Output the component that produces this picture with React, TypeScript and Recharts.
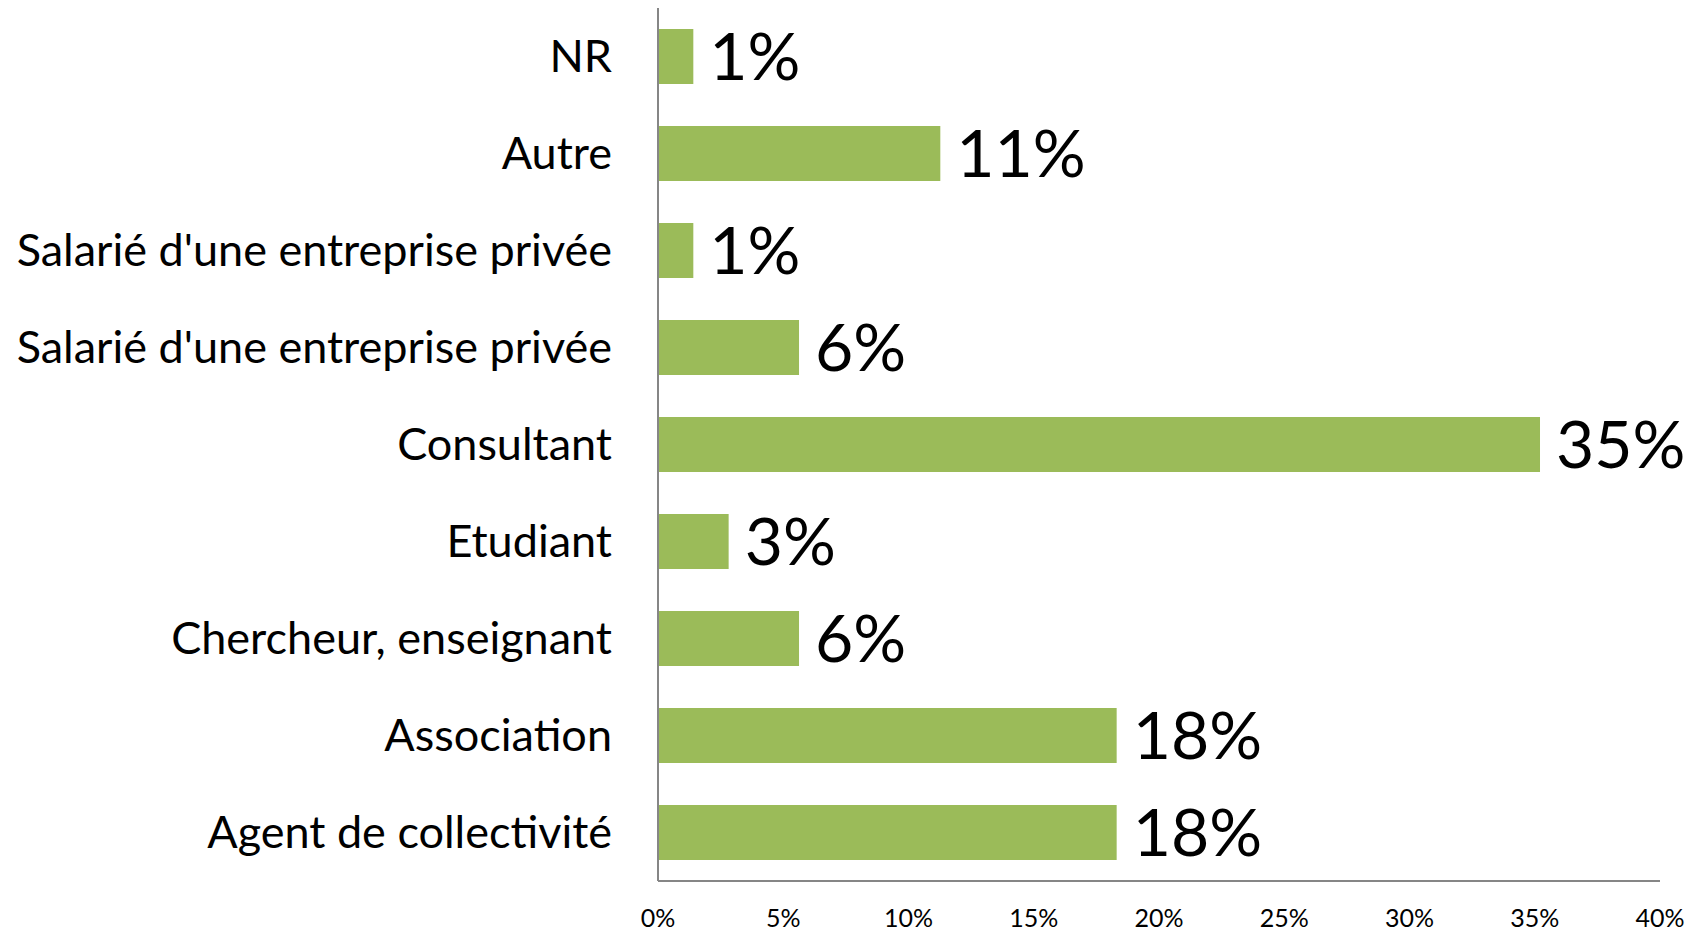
import { Bar, BarChart, LabelList, XAxis, YAxis } from 'recharts'

const categories = [
  'NR',
  'Autre',
  "Salarié d'une entreprise privée",
  "Salarié d'une entreprise privée",
  'Consultant',
  'Etudiant',
  'Chercheur, enseignant',
  'Association',
  'Agent de collectivité',
]

const shares = [1.41, 11.27, 1.41, 5.63, 35.21, 2.82, 5.63, 18.31, 18.31]

const xTicks = [0, 5, 10, 15, 20, 25, 30, 35, 40]

const data = categories.map((name, i) => ({ name, value: shares[i] }))

const FONT = 'Lato, "Open Sans", sans-serif'
const AXIS_GREY = '#868686'

export default function App() {
  return (
    <div style={{ fontFamily: FONT }}>
      <BarChart
        width={1691}
        height={925}
        data={data}
        layout='vertical'
        margin={{ top: 0, right: 39, bottom: 0, left: 0 }}
      >
        <XAxis
          type='number'
          domain={[0, 40]}
          ticks={xTicks}
          tickFormatter={(v) => `${v}%`}
          axisLine={{ stroke: AXIS_GREY, strokeWidth: 2 }}
          tickLine={false}
          tickSize={0}
          tickMargin={28}
          height={52}
          tick={{ fill: '#000', fontSize: 25, fontFamily: FONT }}
        />
        <YAxis
          type='category'
          dataKey='name'
          width={650}
          interval={0}
          axisLine={{ stroke: AXIS_GREY, strokeWidth: 2 }}
          tickLine={false}
          tickSize={0}
          tickMargin={46}
          tick={{ fill: '#000', fontSize: 45, fontFamily: FONT }}
        />
        <Bar
          dataKey='value'
          fill='#9BBB59'
          barSize={55}
          isAnimationActive={false}
        >
          <LabelList
            dataKey='value'
            position='right'
            offset={16}
            formatter={(v: number) => `${Math.round(v)}%`}
            style={{ fill: '#000', fontSize: 66, fontFamily: FONT }}
          />
        </Bar>
      </BarChart>
    </div>
  )
}
